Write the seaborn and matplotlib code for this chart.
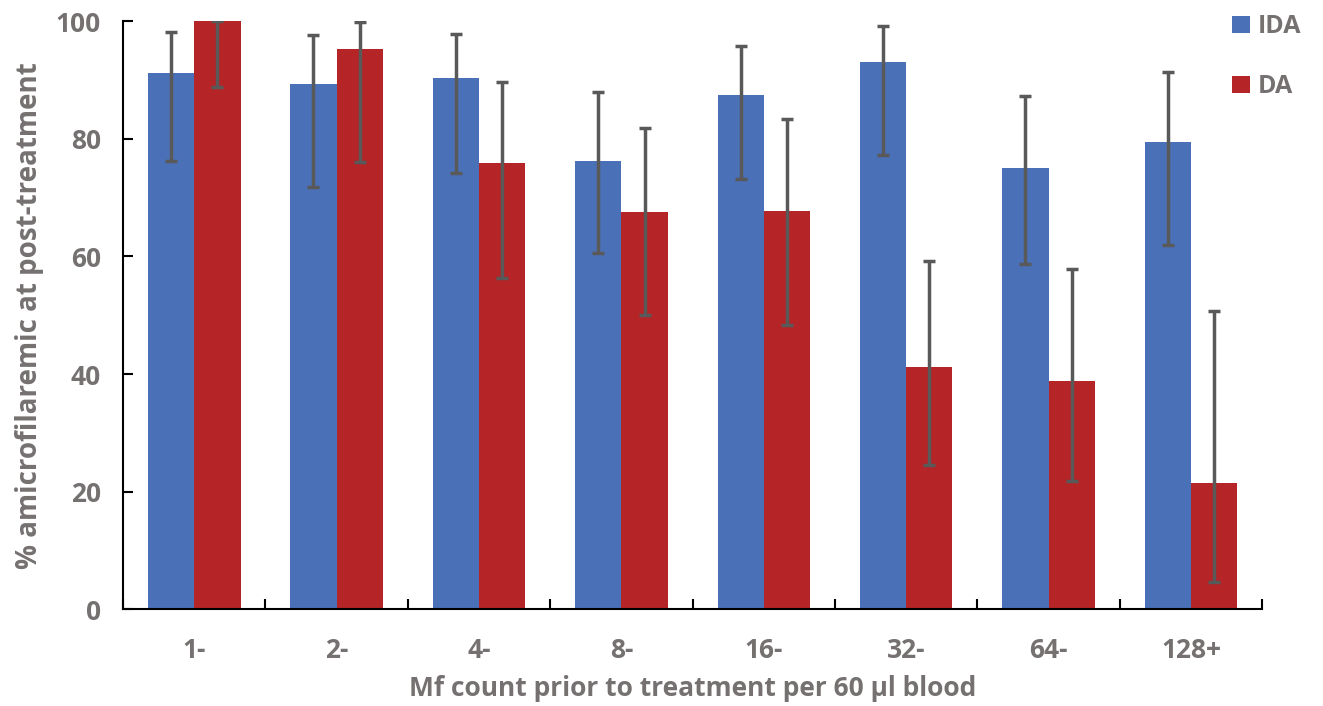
import pandas as pd
import numpy as np
import matplotlib
matplotlib.use('Agg')
import matplotlib.pyplot as plt
import seaborn as sns

categories = ['1-', '2-', '4-', '8-', '16-', '32-', '64-', '128+']
ida_values = [91.2, 89.3, 90.3, 76.2, 87.4, 93.0, 75.0, 79.4]
ida_low = [76.2, 71.8, 74.2, 60.5, 73.2, 77.2, 58.7, 62.0]
ida_high = [98.1, 97.7, 97.9, 87.9, 95.8, 99.1, 87.3, 91.3]
da_values = [100.0, 95.2, 75.9, 67.5, 67.7, 41.2, 38.8, 21.4]
da_low = [88.8, 76.1, 56.4, 50.1, 48.4, 24.6, 21.8, 4.6]
da_high = [100.0, 99.8, 89.7, 81.9, 83.3, 59.3, 57.8, 50.8]

df = pd.DataFrame({
    'group': categories * 2,
    'arm': ['IDA'] * len(categories) + ['DA'] * len(categories),
    'value': ida_values + da_values,
    'low': ida_low + da_low,
    'high': ida_high + da_high,
})

sns.set_style('white')
plt.rcParams['font.family'] = ['Open Sans', 'DejaVu Sans']
plt.rcParams['font.weight'] = 'bold'

grey = '#767171'
fig = plt.figure(figsize=(13.23, 7.06), dpi=100)
ax = fig.add_axes([0.093, 0.137, 0.861, 0.833])

sns.barplot(data=df, x='group', y='value', hue='arm', order=categories,
            hue_order=['IDA', 'DA'], palette=['#4A70B8', '#B52426'],
            width=0.65, errorbar=None, saturation=1, linewidth=0, ax=ax)

# error bars at bar centres
for container, arm in zip(ax.containers, ['IDA', 'DA']):
    sub = df[df['arm'] == arm].set_index('group').loc[categories]
    xs = [p.get_x() + p.get_width() / 2 for p in container.patches]
    ys = sub['value'].values
    yerr = [ys - sub['low'].values, sub['high'].values - ys]
    ax.errorbar(xs, ys, yerr=yerr, fmt='none', ecolor='#595959',
                elinewidth=2.5, capsize=4, capthick=2.5)

ax.set_ylim(0, 100)
ax.set_xlim(-0.5, len(categories) - 0.5)
ax.set_yticks([0, 20, 40, 60, 80, 100])
ax.set_xticks(np.arange(len(categories)))
ax.set_xticklabels(categories)
ax.set_xticks(np.arange(len(categories) + 1) - 0.5, minor=True)
ax.tick_params(axis='x', which='major', length=0, pad=20, labelsize=19, labelcolor=grey)
ax.tick_params(axis='x', which='minor', direction='in', length=7, width=1.5, color='black', bottom=True)
ax.tick_params(axis='y', direction='in', length=7, width=1.5, color='black', left=True,
               labelsize=19, labelcolor=grey, pad=16)

for s in ['top', 'right']:
    ax.spines[s].set_visible(False)
for s in ['left', 'bottom']:
    ax.spines[s].set_color('black')
    ax.spines[s].set_linewidth(1.5)

ax.set_xlabel('Mf count prior to treatment per 60 µl blood', fontsize=19,
              color=grey, fontweight='bold', labelpad=8)
ax.set_ylabel('% amicrofilaremic at post-treatment', fontsize=20,
              color=grey, fontweight='bold', labelpad=8)

leg = ax.legend(loc='upper left', bbox_to_anchor=(1232 / 1323, 1 - 14 / 706),
                bbox_transform=fig.transFigure, frameon=False,
                fontsize=18, handlelength=0.7, handleheight=0.7,
                labelspacing=1.4, handletextpad=0.35,
                borderpad=0, borderaxespad=0)
for t in leg.get_texts():
    t.set_color(grey)
    t.set_fontweight('bold')

fig.savefig('out.png', dpi=100)
